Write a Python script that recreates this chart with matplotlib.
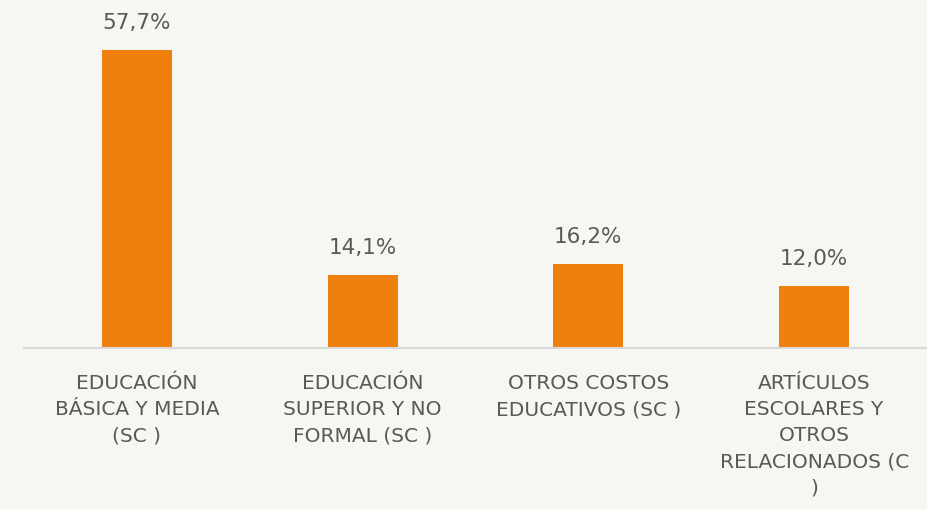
import matplotlib.pyplot as plt

# datos del grafico
categorias = ["EDUCACIÓN\nBÁSICA Y MEDIA\n(SC )",
              "EDUCACIÓN\nSUPERIOR Y NO\nFORMAL (SC )",
              "OTROS COSTOS\nEDUCATIVOS (SC )",
              "ARTÍCULOS\nESCOLARES Y\nOTROS\nRELACIONADOS (C\n)"]
valores = [57.7, 14.1, 16.2, 12.0]

fondo = "#F6F6F2"
naranja = "#F0800E"
gris = "#595959"

plt.rcParams['font.family'] = ['DejaVu Sans']

fig = plt.figure(figsize=(9.27, 5.09), dpi=100, facecolor=fondo)
ax = fig.add_axes([24 / 927, 1 - 348 / 509, 903 / 927, 348 / 509])
ax.set_facecolor(fondo)

x = range(len(valores))
barras = ax.bar(x, valores, width=0.31, color=naranja, zorder=2)
for xi, v in zip(x, valores):
    ax.text(xi, v + 3.3, f"{v:.1f}%".replace(".", ","), ha="center", va="bottom",
            fontsize=15.5, color=gris)

ax.set_xlim(-0.5, len(valores) - 0.5)
ax.set_ylim(0, 67.4)
ax.set_yticks([])
ax.set_xticks(list(x))
ax.set_xticklabels(categorias, fontsize=14.5, color=gris, linespacing=1.47)
ax.tick_params(axis="x", length=0, pad=19)
for s in ["top", "right", "left"]:
    ax.spines[s].set_visible(False)
ax.spines["bottom"].set_color("#D9D9D9")
ax.spines["bottom"].set_linewidth(1.5)

fig.savefig("out.png", dpi=100, facecolor=fondo)
